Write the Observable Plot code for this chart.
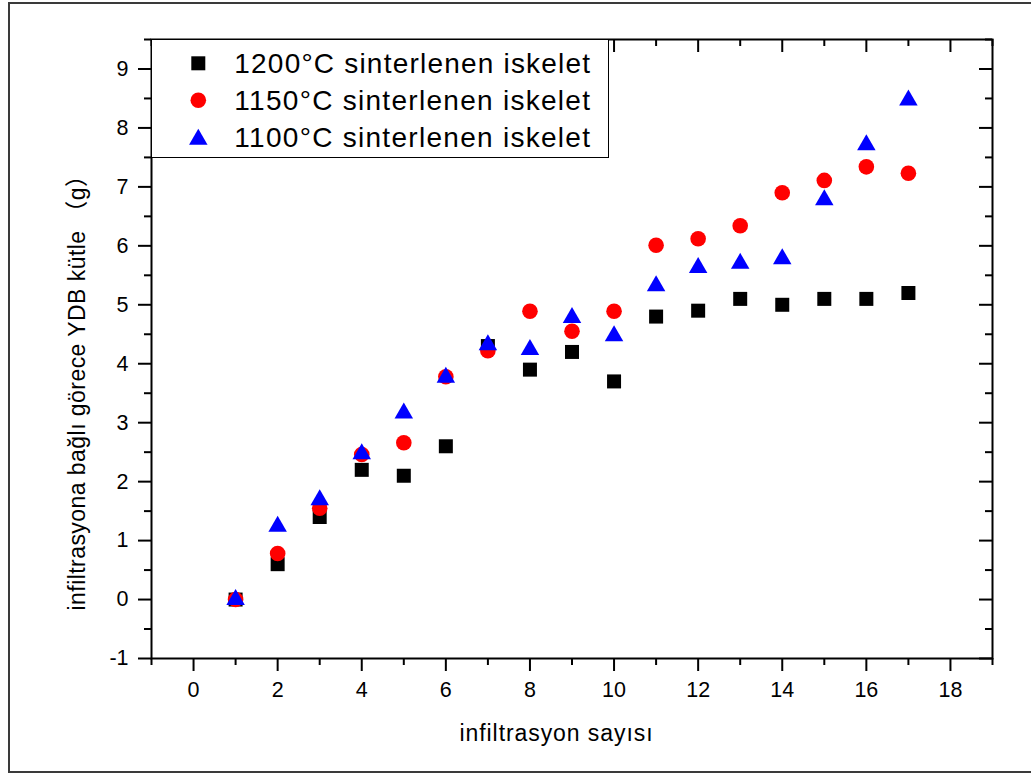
<!DOCTYPE html>
<html><head><meta charset="utf-8">
<script src="https://cdn.jsdelivr.net/npm/d3@7"></script>
<script src="https://cdn.jsdelivr.net/npm/@observablehq/plot@0.6"></script>
<style>
html,body{margin:0;padding:0;background:#fff;width:1031px;height:774px;overflow:hidden;position:relative;}
#chart{position:absolute;left:0;top:0;}
#chart svg{max-width:none;display:block;}
#border{position:absolute;left:8px;top:2px;width:1100px;height:767px;border:2px solid #3a3a3a;pointer-events:none;}
#legend{position:absolute;left:152px;top:40px;width:456px;height:117px;background:#fff;border-right:1px solid #000;border-bottom:1px solid #000;}
#legend svg{position:absolute;left:0;top:0;overflow:visible;}
</style></head><body>
<div id="chart"></div><div id="legend"></div><div id="border"></div>
<script>
// ---- data ----
const infiltrationCount = [1, 2, 3, 4, 5, 6, 7, 8, 9, 10, 11, 12, 13, 14, 15, 16, 17];
const series1200 = [0, 0.6, 1.4, 2.2, 2.1, 2.6, 4.3, 3.9, 4.2, 3.7, 4.8, 4.9, 5.1, 5.0, 5.1, 5.1, 5.2];
const series1150 = [0, 0.78, 1.55, 2.46, 2.66, 3.78, 4.22, 4.89, 4.55, 4.89, 6.01, 6.12, 6.34, 6.9, 7.11, 7.34, 7.23];
const series1100 = [0, 1.24, 1.69, 2.47, 3.16, 3.77, 4.32, 4.24, 4.78, 4.47, 5.32, 5.63, 5.70, 5.78, 6.78, 7.71, 8.47];
const seriesLabels = ["1200°C sinterlenen iskelet", "1150°C sinterlenen iskelet", "1100°C sinterlenen iskelet"];
const seriesColors = ["#000000", "#ff0000", "#0000ff"];
const seriesSymbols = ["square", "circle", "triangle"];
const xMajorTicks = [0, 2, 4, 6, 8, 10, 12, 14, 16, 18];
const xTickLabels = ["0", "2", "4", "6", "8", "10", "12", "14", "16", "18"];
const xMinorTicks = [-1, 1, 3, 5, 7, 9, 11, 13, 15, 17, 19];
const yMajorTicks = [-1, 0, 1, 2, 3, 4, 5, 6, 7, 8, 9];
const yTickLabels = ["-1", "0", "1", "2", "3", "4", "5", "6", "7", "8", "9"];
const yMinorTicks = [-0.5, 0.5, 1.5, 2.5, 3.5, 4.5, 5.5, 6.5, 7.5, 8.5, 9.5];
const xTitle = "infiltrasyon sayısı";
const yTitle = "infiltrasyona bağlı görece YDB kütle （g）";

// ---- layout ----
const W = 1031, H = 774, mL = 151, mR = 39, mT = 39, mB = 116;
const frameW = W - mL - mR, frameH = H - mT - mB;
const font = "'Liberation Sans', Arial, 'Noto Sans CJK SC', sans-serif";
const seriesData = [series1200, series1150, series1100];
const rByShape = {square: 7.9, circle: 7.8, triangle: 6.86};

const plot = Plot.plot({
  width: W, height: H,
  marginLeft: mL, marginRight: mR, marginTop: mT, marginBottom: mB,
  style: {fontFamily: font, fontSize: "21.5px", background: "#fff", color: "#000", overflow: "visible"},
  x: {domain: [-1, 19]},
  y: {domain: [-1, 9.5]},
  marks: [
    Plot.axisX({ticks: xMajorTicks, tickSize: 13, tickPadding: 10, strokeWidth: 2, label: null,
      tickFormat: d => xTickLabels[xMajorTicks.indexOf(d)]}),
    Plot.axisX({ticks: xMinorTicks, tickSize: 7, strokeWidth: 2, label: null, tickFormat: () => ""}),
    Plot.axisY({ticks: yMajorTicks, tickSize: 13, tickPadding: 10, strokeWidth: 2, label: null,
      tickFormat: d => yTickLabels[yMajorTicks.indexOf(d)]}),
    Plot.axisY({ticks: yMinorTicks, tickSize: 7, strokeWidth: 2, label: null, tickFormat: () => ""}),
    // inward ticks on top and right
    Plot.ruleX(xMajorTicks, {insetBottom: frameH - 13, strokeWidth: 2}),
    Plot.ruleX(xMinorTicks, {insetBottom: frameH - 7, strokeWidth: 2}),
    Plot.ruleY(yMajorTicks, {insetLeft: frameW - 13, strokeWidth: 2}),
    Plot.ruleY(yMinorTicks, {insetLeft: frameW - 7, strokeWidth: 2}),
    Plot.frame({strokeWidth: 2}),
    ...seriesData.map((vals, i) => Plot.dot(infiltrationCount, {
      x: infiltrationCount, y: vals, symbol: seriesSymbols[i], r: rByShape[seriesSymbols[i]],
      fill: seriesColors[i], stroke: "none"
    })),
    Plot.text([xTitle], {text: d => d, frameAnchor: "bottom", dx: -15.5, dy: 75,
      textAnchor: "middle", lineAnchor: "middle", fontSize: 23}),
    Plot.text([yTitle], {text: d => d, frameAnchor: "left", rotate: -90, dx: -73.4, dy: 38,
      textAnchor: "middle", lineAnchor: "middle", fontSize: 23})
  ]
});
document.getElementById("chart").appendChild(plot);

// widen titles to the reference widths with letter-spacing
function fitWidth(node, target) {
  const len = node.getComputedTextLength();
  const n = node.textContent.length;
  if (len > 0 && n > 1) node.style.letterSpacing = ((target - len) / n) + "px";
}
d3.select(plot).selectAll("text").each(function() {
  const t = this.textContent;
  if (t === xTitle) fitWidth(this, 194);
  if (t === yTitle) fitWidth(this, 447);
});

// ---- legend ----
const lg = d3.select("#legend").append("svg").attr("width", 456).attr("height", 117);
seriesLabels.forEach((label, i) => {
  const cy = 23.3 + i * 37;
  const shape = seriesSymbols[i];
  const r = rByShape[shape];
  if (shape === "circle") {
    lg.append("circle").attr("cx", 46.3).attr("cy", cy).attr("r", r).attr("fill", seriesColors[i]);
  } else {
    const sym = shape === "square" ? d3.symbolSquare : d3.symbolTriangle;
    lg.append("path")
      .attr("transform", `translate(46.3,${cy + (shape === "triangle" ? 2 : 0)})`)
      .attr("d", d3.symbol(sym, Math.PI * r * r)())
      .attr("fill", seriesColors[i]);
  }
  const tx = lg.append("text").attr("x", 82.3).attr("y", cy).attr("dy", "0.36em")
    .attr("font-family", font).attr("font-size", 28).attr("fill", "#000")
    .text(label);
  fitWidth(tx.node(), 357);
});
</script>
</body></html>
